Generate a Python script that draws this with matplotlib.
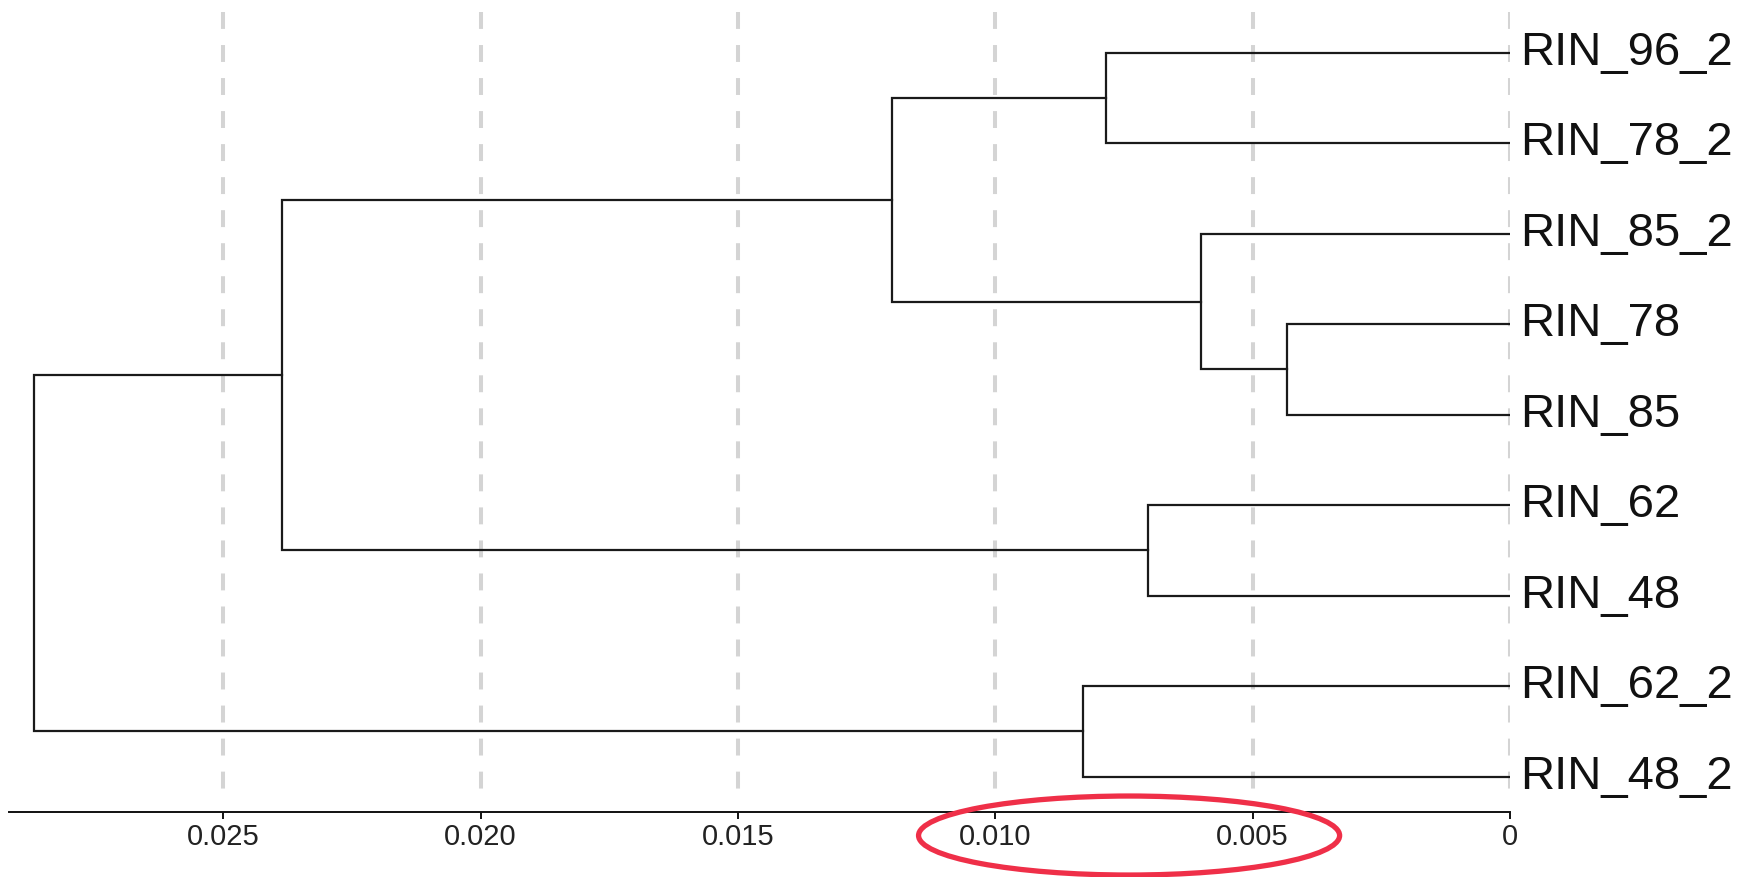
import matplotlib.pyplot as plt
from matplotlib.patches import Ellipse
from matplotlib.ticker import FuncFormatter

# leaves from top to bottom
leaves = ["RIN_96_2", "RIN_78_2", "RIN_85_2", "RIN_78", "RIN_85",
          "RIN_62", "RIN_48", "RIN_62_2", "RIN_48_2"]

# merges: (left child, right child, height); children are leaf names or earlier merge index
merge_left = ["RIN_96_2", "RIN_78", "RIN_85_2", 0, "RIN_62", 3, "RIN_62_2", 5]
merge_right = ["RIN_78_2", "RIN_85", 1, 2, "RIN_48", 4, "RIN_48_2", 6]
merge_height = [0.00785, 0.00433, 0.0060, 0.0120, 0.00704, 0.02385, 0.0083, 0.02867]

tick_values = [0.025, 0.020, 0.015, 0.010, 0.005, 0.0]

line_color = "#1a1a1a"

fig = plt.figure(figsize=(17.56, 8.77), dpi=100)
ax = fig.add_axes([9 / 1756, 1 - 812 / 877, (1510 - 9) / 1756, (812 - 12) / 877])

# grid lines (dashed, light grey) that stop just above the axis line
ax.vlines(tick_values, -0.45, 8.25, colors="#d4d4d4", linewidth=2.9,
          linestyles=(0, (4.2, 4.0)), zorder=1)


def node_pos(child, nodes):
    if isinstance(child, str):
        return 0.0, leaves.index(child)
    return nodes[child]


nodes = []
for left, right, h in zip(merge_left, merge_right, merge_height):
    lx, ly = node_pos(left, nodes)
    rx, ry = node_pos(right, nodes)
    ax.plot([lx, h, h, rx], [ly, ly, ry, ry], color=line_color, linewidth=1.6,
            solid_joinstyle="miter", zorder=2)
    nodes.append((h, (ly + ry) / 2))

for i, name in enumerate(leaves):
    ax.text(-0.0002, i, name, ha="left", va="center", fontsize=34,
            family=["Liberation Sans", "DejaVu Sans"], color="#111111", clip_on=False)

ax.set_xlim(0.02916, 0)
ax.set_ylim(8.39, -0.45)
ax.set_yticks([])
for side in ["top", "right", "left"]:
    ax.spines[side].set_visible(False)
ax.spines["bottom"].set_linewidth(1.4)
ax.spines["bottom"].set_color("#111111")

ax.set_xticks(tick_values)
ax.xaxis.set_major_formatter(FuncFormatter(lambda v, p: "0" if v == 0 else "%.3f" % v))
ax.tick_params(axis="x", length=5, width=1.4, color="#111111", pad=3,
               labelcolor="#222222")
for lab in ax.get_xticklabels():
    lab.set_family(["Liberation Sans Narrow", "Liberation Sans", "DejaVu Sans"])
    lab.set_fontsize(21)

# red ellipse highlighting the 0.010 - 0.005 labels
ax.add_patch(Ellipse((0.0074, 8.65), 0.00818, 0.873, fill=False, edgecolor="#ef2f48",
                     linewidth=3.8, clip_on=False, zorder=5))

fig.savefig("out.png", dpi=100)
